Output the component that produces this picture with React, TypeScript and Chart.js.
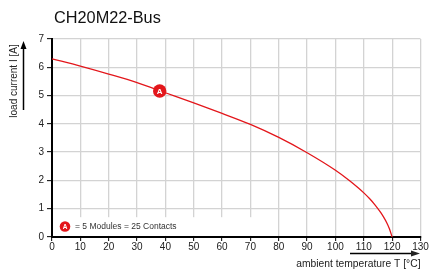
import { useEffect, useRef } from 'react';
import { Chart, registerables } from 'chart.js';

Chart.register(...registerables);

const chartTitle = 'CH20M22-Bus';
const xAxisTitle = 'ambient temperature T [°C]';
const yAxisTitle = 'load current I [A]';
const legendText = '= 5 Modules = 25 Contacts';
const markerLabel = 'A';

const temperatures = [0, 10, 20, 30, 40, 50, 60, 70, 80, 90, 100, 105, 108, 110, 112, 114, 116, 117, 118, 119, 120];
const currents = [6.3, 6.04, 5.76, 5.46, 5.1, 4.74, 4.37, 3.98, 3.52, 2.98, 2.36, 1.99, 1.74, 1.56, 1.36, 1.13, 0.86, 0.7, 0.52, 0.3, 0];
const markerTemperature = [38];
const markerCurrent = [5.16];
const xTickValues = [0, 10, 20, 30, 40, 50, 60, 70, 80, 90, 100, 110, 120, 130];
const yTickValues = [0, 1, 2, 3, 4, 5, 6, 7];

const RED = '#e3161b';
const FONT = '"Liberation Sans", Arial, sans-serif';

const decorPlugin = {
  id: 'decor',
  beforeDatasetsDraw(chart: any) {
    const { ctx, chartArea, scales } = chart;
    ctx.save();
    ctx.fillStyle = '#ffffff';
    const x0 = chartArea.left + 1.5;
    const x1 = scales.x.getPixelForValue(75);
    const y0 = scales.y.getPixelForValue(0.7);
    ctx.fillRect(x0, y0, x1 - x0, chartArea.bottom - 1.2 - y0);
    ctx.restore();
  },
  afterDraw(chart: any) {
    const { ctx, chartArea, scales } = chart;
    ctx.save();
    // title
    ctx.fillStyle = '#111';
    ctx.font = `16.3px ${FONT}`;
    ctx.textAlign = 'left';
    ctx.textBaseline = 'middle';
    ctx.fillText(chartTitle, 54, 19);

    // y title + arrow
    ctx.save();
    ctx.translate(14.5, 81);
    ctx.rotate(-Math.PI / 2);
    ctx.font = `10px ${FONT}`;
    ctx.textAlign = 'center';
    ctx.textBaseline = 'middle';
    ctx.fillStyle = '#222';
    ctx.fillText(yAxisTitle, 0, 0);
    ctx.restore();
    ctx.strokeStyle = '#000';
    ctx.fillStyle = '#000';
    ctx.lineWidth = 1.5;
    ctx.beginPath();
    ctx.moveTo(23.5, 110);
    ctx.lineTo(23.5, 48);
    ctx.stroke();
    ctx.beginPath();
    ctx.moveTo(23.5, 41);
    ctx.lineTo(20.5, 49);
    ctx.lineTo(26.5, 49);
    ctx.closePath();
    ctx.fill();

    // x title + arrow
    ctx.font = `10.3px ${FONT}`;
    ctx.textAlign = 'right';
    ctx.textBaseline = 'middle';
    ctx.fillStyle = '#222';
    ctx.fillText(xAxisTitle, chartArea.right, 264);
    ctx.beginPath();
    ctx.moveTo(350, 253.5);
    ctx.lineTo(412, 253.5);
    ctx.stroke();
    ctx.beginPath();
    ctx.moveTo(420, 253.5);
    ctx.lineTo(411, 250.5);
    ctx.lineTo(411, 256.5);
    ctx.closePath();
    ctx.fill();

    // marker label
    const mx = scales.x.getPixelForValue(markerTemperature[0]);
    const my = scales.y.getPixelForValue(markerCurrent[0]);
    ctx.fillStyle = '#fff';
    ctx.font = `bold 8px ${FONT}`;
    ctx.textAlign = 'center';
    ctx.textBaseline = 'middle';
    ctx.fillText(markerLabel, mx, my + 0.5);

    // legend
    const lx = 65;
    const ly = 226.5;
    ctx.fillStyle = RED;
    ctx.beginPath();
    ctx.arc(lx, ly, 5.3, 0, Math.PI * 2);
    ctx.fill();
    ctx.fillStyle = '#fff';
    ctx.font = `bold 6.5px ${FONT}`;
    ctx.fillText(markerLabel, lx, ly + 0.5);
    ctx.fillStyle = '#333';
    ctx.font = `8.5px ${FONT}`;
    ctx.textAlign = 'left';
    ctx.fillText(legendText, 75, ly);
    ctx.restore();
  },
};

export default function App() {
  const ref = useRef<HTMLCanvasElement | null>(null);
  useEffect(() => {
    document.body.style.margin = '0';
    if (!ref.current) return;
    const chart = new Chart(ref.current, {
      type: 'line',
      data: {
        datasets: [
          {
            data: temperatures.map((t, i) => ({ x: t, y: currents[i] })),
            borderColor: RED,
            borderWidth: 1.3,
            pointRadius: 0,
            cubicInterpolationMode: 'monotone',
            fill: false,
          },
          {
            data: markerTemperature.map((t, i) => ({ x: t, y: markerCurrent[i] })),
            showLine: false,
            pointRadius: 6.7,
            pointBackgroundColor: RED,
            pointBorderColor: RED,
            pointBorderWidth: 0,
          },
        ],
      },
      options: {
        animation: false,
        responsive: false,
        events: [],
        layout: { padding: { top: 39, right: 9.5, left: 0, bottom: 0 } },
        plugins: { legend: { display: false }, tooltip: { enabled: false }, title: { display: false } },
        scales: {
          x: {
            type: 'linear',
            min: 0,
            max: 130,
            afterBuildTicks: (scale: any) => {
              scale.ticks = xTickValues.map((v) => ({ value: v }));
            },
            afterFit: (scale: any) => {
              scale.height = 34;
            },
            grid: { color: '#d3d3d3', lineWidth: 1.3, tickColor: '#000', tickLength: 4, tickWidth: 1 },
            border: { color: '#000', width: 2 },
            ticks: { color: '#222', font: { family: FONT, size: 10 }, padding: 0, maxRotation: 0, autoSkip: false },
          },
          y: {
            type: 'linear',
            min: 0,
            max: 7,
            afterBuildTicks: (scale: any) => {
              scale.ticks = yTickValues.map((v) => ({ value: v }));
            },
            afterFit: (scale: any) => {
              scale.width = 52;
            },
            grid: { color: '#d3d3d3', lineWidth: 1.3, tickColor: '#000', tickLength: 5, tickWidth: 1 },
            border: { color: '#000', width: 2 },
            ticks: { color: '#222', font: { family: FONT, size: 10 }, padding: 3, autoSkip: false },
          },
        },
      },
      plugins: [decorPlugin],
    } as any);
    return () => chart.destroy();
  }, []);
  return (
    <div style={{ width: 430, height: 271 }}>
      <canvas ref={ref} width={430} height={271} style={{ display: 'block' }} />
    </div>
  );
}
